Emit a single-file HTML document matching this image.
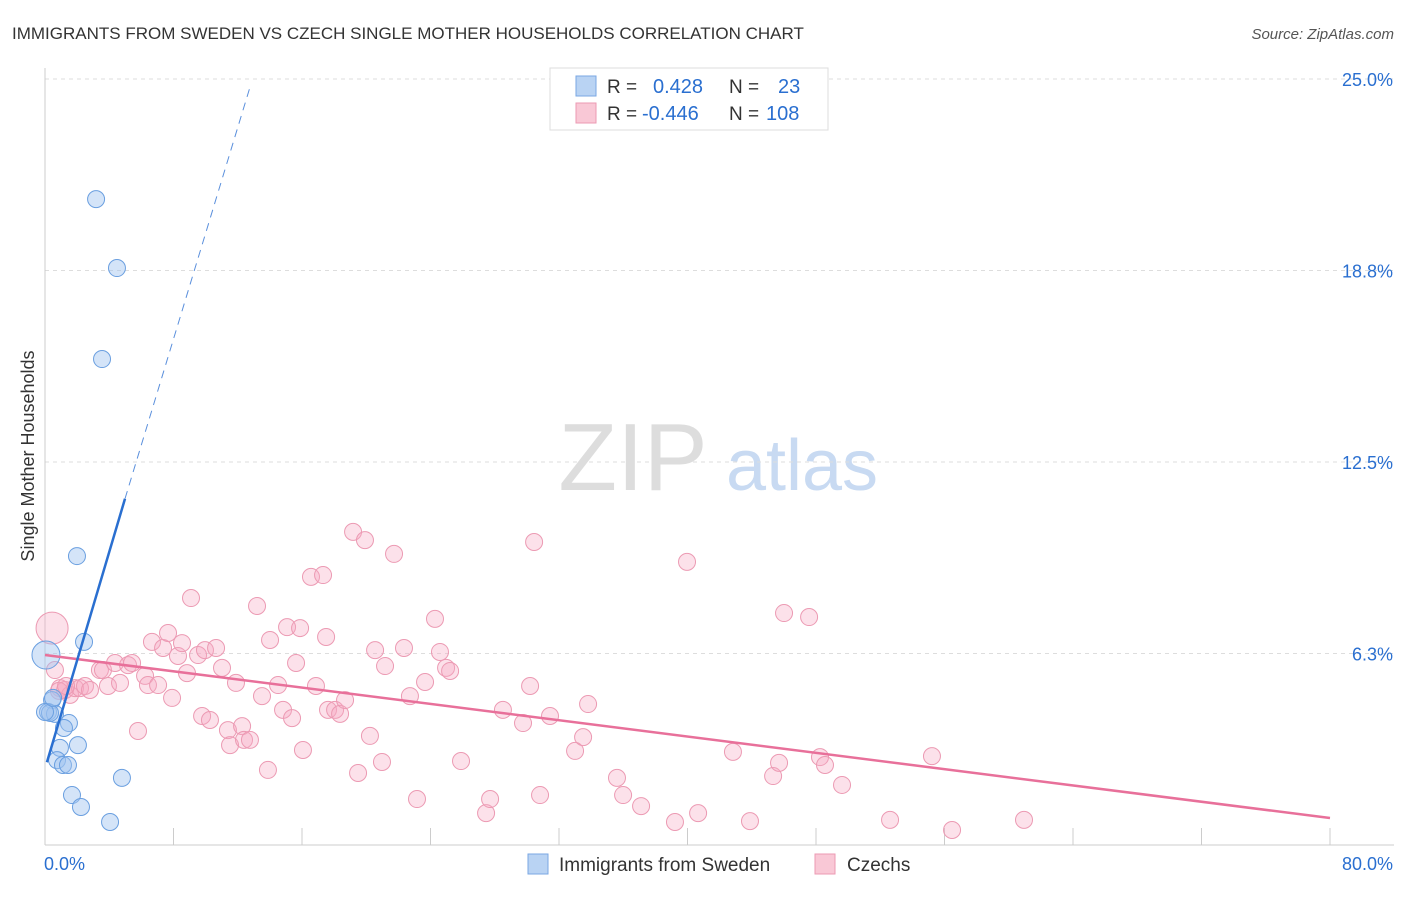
<!DOCTYPE html>
<html><head><meta charset="utf-8"><style>
body{margin:0;background:#fff;font-family:"Liberation Sans",sans-serif;}
svg text{font-family:"Liberation Sans",sans-serif;}
</style></head><body>
<svg id="chart" width="1406" height="892">
<text x="12" y="39" font-size="17" fill="#333">IMMIGRANTS FROM SWEDEN VS CZECH SINGLE MOTHER HOUSEHOLDS CORRELATION CHART</text>
<text x="1394" y="39" font-size="15" fill="#555" text-anchor="end" font-style="italic">Source: ZipAtlas.com</text>
<g>
<text x="633" y="490" font-size="96" fill="#ddd" font-family="Liberation Serif" text-anchor="middle">ZIP</text>
<text x="802" y="490" font-size="72" fill="#c8daf2" text-anchor="middle">atlas</text>
</g>
<g id="grid"></g>
<g id="axes"></g>
<g id="marks"></g>
<text x="34" y="456" font-size="18" fill="#333" text-anchor="middle" transform="rotate(-90 34 456)">Single Mother Households</text>
<g>
<rect x="550" y="68" width="278" height="62" fill="#fff" stroke="#ddd"/>
<rect x="576" y="76" width="20" height="20" fill="#b9d3f3" stroke="#7aa7e3"/>
<rect x="576" y="103" width="20" height="20" fill="#f9c8d6" stroke="#ec9ab3"/>
<text x="607" y="93" font-size="19" fill="#333">R =</text>
<text x="653" y="93" font-size="20" fill="#2a6fd0">0.428</text>
<text x="729" y="93" font-size="19" fill="#333">N =</text>
<text x="778" y="93" font-size="20" fill="#2a6fd0">23</text>
<text x="607" y="120" font-size="19" fill="#333">R =</text>
<text x="642" y="120" font-size="20" fill="#2a6fd0">-0.446</text>
<text x="729" y="120" font-size="19" fill="#333">N =</text>
<text x="766" y="120" font-size="20" fill="#2a6fd0">108</text>
</g>
<g>
<rect x="528" y="854" width="20" height="20" fill="#b9d3f3" stroke="#7aa7e3"/>
<text x="559" y="871" font-size="19" fill="#333">Immigrants from Sweden</text>
<rect x="815" y="854" width="20" height="20" fill="#f9c8d6" stroke="#ec9ab3"/>
<text x="847" y="871" font-size="19" fill="#333">Czechs</text>
</g>
</svg>
<script>
const yTicks=[6.25,12.5,18.75,25];
const yTickLabels=["6.3%","12.5%","18.8%","25.0%"];
const xTickCount=10;
const xLabels=["0.0%","80.0%"];
const swedenX=[3.18,4.48,3.55,1.99,2.43,0.06,0.44,0.19,0.62,1.49,1.18,0.93,2.05,0.75,1.12,1.43,1.68,2.24,4.79,4.05,0.31,0,0.5];
const swedenY=[21.08,18.83,15.86,9.43,6.63,6.20,4.73,4.34,4.28,3.98,3.82,3.17,3.26,2.77,2.61,2.61,1.63,1.24,2.19,0.75,4.31,4.34,4.80];
const czechX=[0.44,0.62,0.93,1.25,1.56,1.87,2.18,2.49,2.80,3.42,3.92,3.61,4.36,4.67,5.17,5.42,5.79,6.23,6.41,6.66,7.04,7.35,7.66,7.91,8.28,8.53,8.84,9.09,9.53,9.78,9.96,10.27,10.65,11.02,11.39,11.52,11.89,12.27,12.39,12.76,13.20,13.51,13.88,14.01,14.51,14.82,15.07,15.38,15.63,15.88,16.06,16.56,16.87,17.31,17.50,17.62,18.06,18.37,18.68,19.18,19.49,19.92,20.23,20.55,20.98,21.17,21.73,22.35,22.72,23.16,23.66,24.28,24.59,24.97,25.22,25.90,27.46,27.71,28.51,29.76,30.20,30.45,30.82,31.44,33.00,33.50,33.81,35.61,35.99,37.11,39.22,39.97,40.66,42.83,43.89,45.33,45.70,46.01,47.57,48.25,48.56,49.62,52.61,55.22,56.47,60.95,0.87,1.31];
const czechY=[7.08,5.71,5.12,5.06,4.90,5.12,5.12,5.19,5.06,5.71,5.19,5.71,5.94,5.29,5.87,5.94,3.72,5.52,5.22,6.63,5.22,6.43,6.92,4.80,6.17,6.59,5.61,8.06,6.20,4.21,6.36,4.08,6.43,5.78,3.75,3.26,5.29,3.88,3.43,3.43,7.80,4.86,2.45,6.69,5.22,4.41,7.11,4.14,5.94,7.08,3.10,8.75,5.19,8.81,6.79,4.41,4.41,4.28,4.73,10.22,2.35,9.95,3.56,6.36,2.71,5.84,9.50,6.43,4.86,1.50,5.32,7.38,6.30,5.78,5.68,2.74,1.04,1.50,4.41,3.98,5.19,9.89,1.63,4.21,3.07,3.52,4.60,2.19,1.63,1.27,0.75,9.24,1.04,3.04,0.78,2.25,2.68,7.57,7.44,2.87,2.61,1.96,0.82,2.90,0.49,0.82,5.03,5.19];
const swedenTrendSolid=[[0.12,2.7],[4.98,11.3]];
const swedenTrendDashed=[[4.98,11.3],[12.8,24.8]];
const czechTrend=[[0,6.2],[80,0.88]];
const bigSweden=[5];const bigCzech=[0];

const X0=45,X1=1330,Y0=845,YTOP=79;
const xs=v=>X0+v/80*(X1-X0);
const ys=v=>Y0-v/25*(Y0-YTOP);
const NS="http://www.w3.org/2000/svg";
function mk(tag,attrs,parent){const e=document.createElementNS(NS,tag);for(const k in attrs)e.setAttribute(k,attrs[k]);document.getElementById(parent).appendChild(e);return e;}

yTicks.forEach((t,i)=>{
 const l=mk('line',{x1:X0,x2:1394,y1:ys(t),y2:ys(t),stroke:'#ddd','stroke-dasharray':'4,4'},'grid');
 
 
 const tx=mk('text',{x:1393,y:ys(t)+7,'font-size':18,fill:'#2a6fd0','text-anchor':'end'},'axes');
 tx.textContent=yTickLabels[i];
 
 
});
const ax=mk('line',{x1:X0,x2:X0,y1:68,y2:Y0,stroke:'#ccc'},'axes');


const bx=mk('line',{x1:X0,x2:1394,y1:Y0,y2:Y0,stroke:'#ccc'},'axes');


for(let i=1;i<=xTickCount;i++){
 const t=mk('line',{x1:xs(i*8),x2:xs(i*8),y1:Y0,y2:Y0-17,stroke:'#ccc'},'axes');
 
 
}
const xl0=mk('text',{x:44,y:870,'font-size':18,fill:'#2a6fd0'},'axes');xl0.textContent=xLabels[0];


const xl1=mk('text',{x:1393,y:870,'font-size':18,fill:'#2a6fd0','text-anchor':'end'},'axes');xl1.textContent=xLabels[1];



czechX.forEach((v,i)=>{
 const c=mk('circle',{cx:xs(v),cy:ys(czechY[i]),r:bigCzech.includes(i)?16:8.5,fill:'rgba(245,170,195,0.35)',stroke:'#ec9ab3','stroke-width':1},'marks');
 
 
});
swedenX.forEach((v,i)=>{
 const c=mk('circle',{cx:xs(v),cy:ys(swedenY[i]),r:bigSweden.includes(i)?14:8.5,fill:'rgba(160,195,240,0.45)',stroke:'#6a9fe0','stroke-width':1},'marks');
 
 
});
const tl1=mk('line',{x1:xs(czechTrend[0][0]),y1:ys(czechTrend[0][1]),x2:xs(czechTrend[1][0]),y2:ys(czechTrend[1][1]),stroke:'#e8709a','stroke-width':2.5},'marks');


const tl2=mk('line',{x1:xs(swedenTrendSolid[0][0]),y1:ys(swedenTrendSolid[0][1]),x2:xs(swedenTrendSolid[1][0]),y2:ys(swedenTrendSolid[1][1]),stroke:'#2a6fd0','stroke-width':2.5},'marks');


const tl3=mk('line',{x1:xs(swedenTrendDashed[0][0]),y1:ys(swedenTrendDashed[0][1]),x2:xs(swedenTrendDashed[1][0]),y2:ys(swedenTrendDashed[1][1]),stroke:'#5a8fdc','stroke-width':1,'stroke-dasharray':'8,6'},'marks');


</script>
</body></html>
